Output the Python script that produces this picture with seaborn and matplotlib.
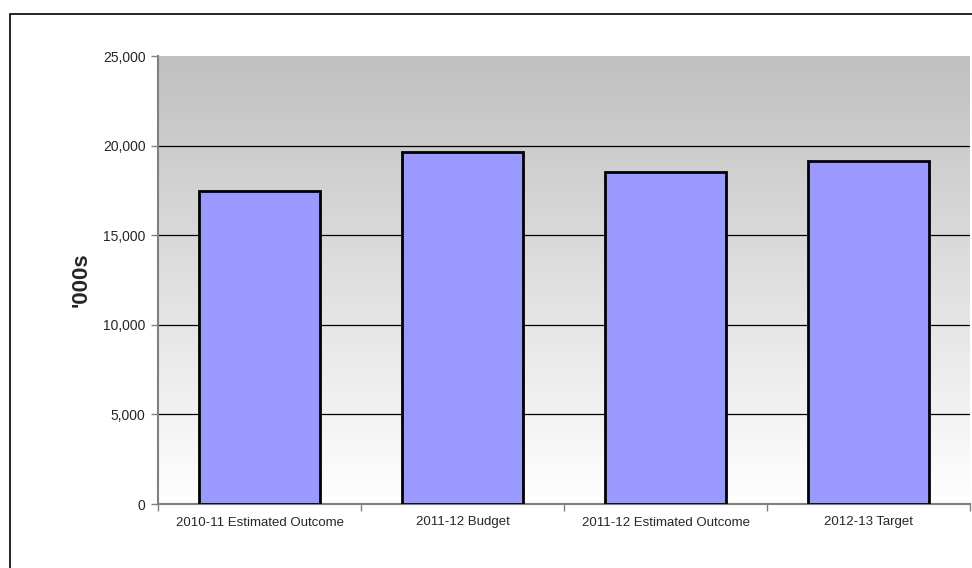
import numpy as np
import pandas as pd
import matplotlib
matplotlib.use("Agg")
import matplotlib.pyplot as plt
import seaborn as sns
from matplotlib.patches import Rectangle
from matplotlib.ticker import FuncFormatter, MultipleLocator, FixedLocator, NullFormatter

categories = ["2010-11 Estimated Outcome", "2011-12 Budget",
              "2011-12 Estimated Outcome", "2012-13 Target"]
values = [17480, 19650, 18500, 19150]
y_label = "'000s"

sns.set_theme(style="white")
plt.rcParams['font.family'] = ['Liberation Sans', 'DejaVu Sans']

fig = plt.figure(figsize=(9.72, 5.68), dpi=100)
ax = fig.add_axes([158/972, 1 - 504/568, (970-158)/972, (504-56)/568])

df = pd.DataFrame({"cat": categories, "val": values})
sns.barplot(data=df, x="cat", y="val", ax=ax, color="#9999ff", saturation=1,
            width=0.6, edgecolor="black", linewidth=2, zorder=3)

ax.set_ylim(0, 25000)
ax.set_xlim(-0.5, 3.5)

# gradient background
grad = np.linspace(0, 1, 256).reshape(-1, 1)
cmap = matplotlib.colors.LinearSegmentedColormap.from_list("g", ["#ffffff", "#c0c0c0"])
ax.imshow(grad, aspect="auto", cmap=cmap, origin="lower",
          extent=(-0.5, 3.5, 0, 25000), zorder=0)

for yv in [5000, 10000, 15000, 20000]:
    ax.axhline(yv, color="black", linewidth=0.9, zorder=1)

ax.yaxis.set_major_locator(MultipleLocator(5000))
ax.yaxis.set_major_formatter(FuncFormatter(lambda v, p: f"{int(v):,}"))
ax.tick_params(axis="y", which="major", direction="out", length=5, width=1,
               color="#808080", labelsize=10, pad=4, left=True)
ax.set_xticks(range(len(categories)))
ax.set_xticklabels(categories)
ax.tick_params(axis="x", which="major", length=0, labelsize=9.5, pad=9)
ax.xaxis.set_minor_locator(FixedLocator([-0.5, 0.5, 1.5, 2.5, 3.5]))
ax.xaxis.set_minor_formatter(NullFormatter())
ax.tick_params(axis="x", which="minor", direction="out", length=5, width=1,
               color="#808080", bottom=True)

for s in ["top", "right"]:
    ax.spines[s].set_visible(False)
for s in ["left", "bottom"]:
    ax.spines[s].set_color("#808080")
    ax.spines[s].set_linewidth(1.5)

ax.set_xlabel("")
ax.set_ylabel(y_label, fontsize=16, fontweight="bold", labelpad=8)

# outer chart border
fig.patches.append(Rectangle((10/972, -0.01), 1.0, 1 - 14/568 + 0.01,
                             transform=fig.transFigure, fill=False,
                             edgecolor="black", linewidth=1.2))

fig.savefig("out.png", dpi=100)
